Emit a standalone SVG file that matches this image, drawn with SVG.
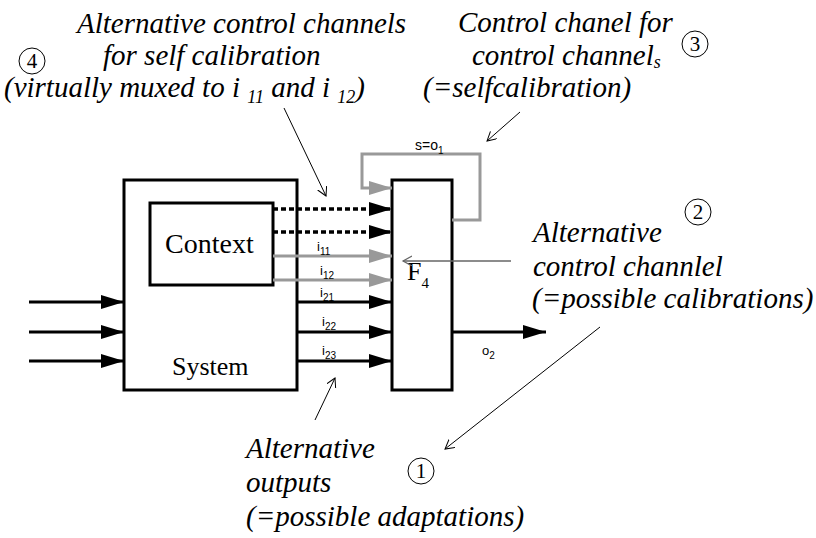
<svg xmlns="http://www.w3.org/2000/svg" width="816" height="538" viewBox="0 0 816 538">
<style>
.box{fill:#fff;stroke:#000;stroke-width:3}
.ln{fill:none;stroke:#000;stroke-width:3}
.gl{fill:none;stroke:#999;stroke-width:3}
.dash{fill:none;stroke:#000;stroke-width:3.5;stroke-dasharray:5,3}
.ann{fill:none;stroke:#000;stroke-width:1}
.ann2{fill:none;stroke:#666;stroke-width:1.5}
.circ{fill:none;stroke:#000;stroke-width:1}
</style>
<defs>
<marker id="ab" markerUnits="userSpaceOnUse" markerWidth="24" markerHeight="16" refX="23" refY="7" orient="auto"><path d="M0,0 L23,7 L0,14 z" fill="#000"/></marker>
<marker id="ag" markerUnits="userSpaceOnUse" markerWidth="24" markerHeight="16" refX="23" refY="7" orient="auto"><path d="M0,0 L23,7 L0,14 z" fill="#999"/></marker>
<marker id="ao" markerUnits="userSpaceOnUse" markerWidth="12" markerHeight="12" refX="9" refY="5" orient="auto"><path d="M0,0 L9,5 L0,10" fill="none" stroke="#000" stroke-width="1"/></marker>
<marker id="ao2" markerUnits="userSpaceOnUse" markerWidth="12" markerHeight="12" refX="9" refY="5" orient="auto"><path d="M0,0 L9,5 L0,10" fill="none" stroke="#666" stroke-width="1.2"/></marker>
</defs>

<g id="system">
<rect class="box" x="124" y="180" width="173" height="210"/>
<text font-family="Liberation Serif, serif" font-size="26" x="172" y="375">System</text>
</g>
<g id="context">
<rect class="box" x="150" y="203" width="123" height="82"/>
<text font-family="Liberation Serif, serif" font-size="28" x="165" y="253">Context</text>
</g>
<g id="f4">
<rect class="box" x="392" y="180" width="60" height="210"/>
<text font-family="Liberation Serif, serif" font-size="26" x="407" y="280">F<tspan font-size="15" dy="8">4</tspan></text>
</g>

<g id="connectors">
<path class="ln" d="M29,302 H124" marker-end="url(#ab)"/>
<path class="ln" d="M29,332 H124" marker-end="url(#ab)"/>
<path class="ln" d="M29,361 H124" marker-end="url(#ab)"/>
<path class="dash" d="M273,209 H392" marker-end="url(#ab)"/>
<path class="dash" d="M273,232 H392" marker-end="url(#ab)"/>
<path class="gl" d="M273,256 H392" marker-end="url(#ag)"/>
<path class="gl" d="M273,280 H392" marker-end="url(#ag)"/>
<path class="ln" d="M297,302 H392" marker-end="url(#ab)"/>
<path class="ln" d="M297,332 H392" marker-end="url(#ab)"/>
<path class="ln" d="M297,361 H392" marker-end="url(#ab)"/>
<path class="gl" d="M452,220 H480 V154 H362 V188 H392" marker-end="url(#ag)"/>
<path class="ln" d="M452,332 H546" marker-end="url(#ab)"/>
<path class="ann" d="M284,108 L326,196" marker-end="url(#ao)"/>
<path class="ann" d="M520,112 L487,141" marker-end="url(#ao)"/>
<path class="ann2" d="M511,261 H403" marker-end="url(#ao2)"/>
<path class="ann" d="M600,327 L445,449" marker-end="url(#ao)"/>
<path class="ann" d="M315,420 L335,378" marker-end="url(#ao)"/>
</g>

<g id="labels" font-family="Liberation Sans, Arial, sans-serif" font-size="13">
<text x="317" y="251">i<tspan font-size="10" dy="4">11</tspan></text>
<text x="320" y="275">i<tspan font-size="10" dy="4">12</tspan></text>
<text x="320" y="297">i<tspan font-size="10" dy="4">21</tspan></text>
<text x="322" y="326">i<tspan font-size="10" dy="4">22</tspan></text>
<text x="322" y="355">i<tspan font-size="10" dy="4">23</tspan></text>
<text x="415" y="150" font-size="14">s=o<tspan font-size="10" dy="4">1</tspan></text>
<text x="482" y="355">o<tspan font-size="10" dy="4">2</tspan></text>
</g>

<g id="note4" font-family="Liberation Serif, serif" font-style="italic" font-size="29">
<text x="77" y="33">Alternative control channels</text>
<text x="103" y="65">for self calibration</text>
<text x="4" y="97">(virtually muxed to i <tspan font-size="18" dy="6">11</tspan><tspan dy="-6"> and i </tspan><tspan font-size="18" dy="6">12</tspan><tspan dy="-6">)</tspan></text>
<circle class="circ" cx="32" cy="61" r="13"/>
<text font-style="normal" font-size="21" text-anchor="middle" x="32" y="68">4</text>
</g>
<g id="note3" font-family="Liberation Serif, serif" font-style="italic" font-size="29">
<text x="458" y="32">Control chanel for</text>
<text x="472" y="65">control channel<tspan font-size="18" dy="3">s</tspan></text>
<text x="423" y="97">(=selfcalibration)</text>
<circle class="circ" cx="695" cy="44" r="13"/>
<text font-style="normal" font-size="21" text-anchor="middle" x="695" y="51">3</text>
</g>
<g id="note2" font-family="Liberation Serif, serif" font-style="italic" font-size="29">
<text x="533" y="242">Alternative</text>
<text x="533" y="276">control channlel</text>
<text x="532" y="308">(=possible calibrations)</text>
<circle class="circ" cx="698" cy="212" r="13"/>
<text font-style="normal" font-size="21" text-anchor="middle" x="698" y="219">2</text>
</g>
<g id="note1" font-family="Liberation Serif, serif" font-style="italic" font-size="29">
<text x="246" y="458">Alternative</text>
<text x="246" y="492">outputs</text>
<text x="246" y="526">(=possible adaptations)</text>
<circle class="circ" cx="421" cy="471" r="13"/>
<text font-style="normal" font-size="21" text-anchor="middle" x="421" y="478">1</text>
</g>
</svg>
